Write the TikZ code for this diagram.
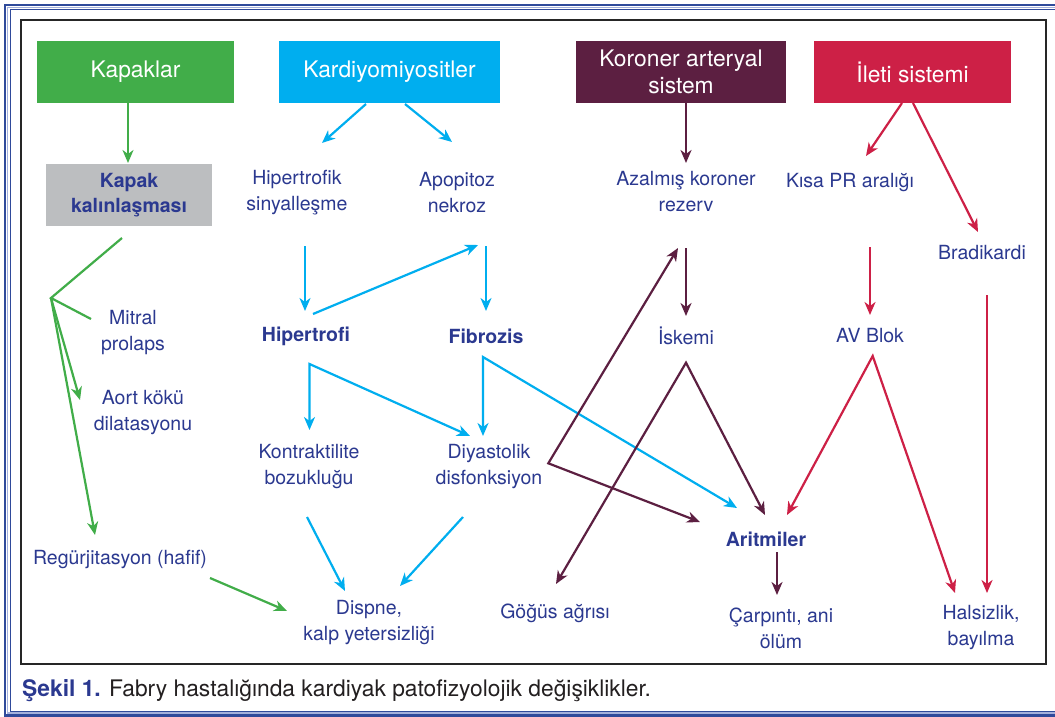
\documentclass[tikz,border=0pt]{standalone}
\usepackage{fontspec}
\setmainfont{TeX Gyre Heros}
\usetikzlibrary{arrows.meta,calc}

\definecolor{kgreen}{HTML}{41AD49}
\definecolor{kcyan}{HTML}{00AEEF}
\definecolor{kmaroon}{HTML}{5C1F41}
\definecolor{kred}{HTML}{CD2046}
\definecolor{kgray}{HTML}{BCBEC0}
\definecolor{txtblue}{HTML}{2B3990}
\definecolor{framedark}{HTML}{2F4A9B}
\definecolor{framelight}{HTML}{A3B0DC}
\definecolor{captxt}{HTML}{231F20}

\tikzset{
  lbl/.style={text=txtblue, align=center, inner sep=0pt,
    font=\fontsize{19.5pt}{26pt}\selectfont},
  lblb/.style={lbl, font=\fontsize{19.5pt}{26pt}\selectfont\bfseries},
  hdr/.style={text=white, align=center, inner sep=0pt, minimum height=62pt,
    font=\fontsize{22.8pt}{27.5pt}\selectfont},
  tipshape/.tip={Stealth[length=13pt,width=11pt,inset=4pt]},
  conn/.style={line width=2.2pt, -tipshape},
  bi/.style={line width=2.2pt, tipshape-tipshape},
  plain/.style={line width=2.2pt},
}

\begin{document}
\begin{tikzpicture}[x=1pt,y=-1pt]
\clip (0,0) rectangle (1055,717);
\fill[white] (0,0) rectangle (1055,717);

% page frame
\draw[framedark, line width=2.5pt] (5,5) rectangle (1080,715.5);
\draw[framelight, line width=1.5pt] (7.5,7.5) rectangle (1080,713);
\draw[framedark, line width=1pt] (10,9.5) rectangle (1080,711);
\draw[black!85, line width=1.2pt] (21,20) rectangle (1046,664);

% header boxes
\node[hdr, fill=kgreen, minimum width=197pt] (kap) at (135.5,72) {Kapaklar};
\node[hdr, fill=kcyan, minimum width=221pt] (km) at (389.5,72) {Kardiyomiyositler};
\node[hdr, fill=kmaroon, minimum width=210pt] (kor) at (681,72) {Koroner arteryal\\sistem};
\node[hdr, fill=kred, minimum width=197pt] (ileti) at (912.5,72) {İleti sistemi};

% valve column
\node[lblb, fill=kgray, minimum width=166pt, minimum height=62pt,
  font=\fontsize{19.5pt}{25pt}\selectfont\bfseries] (kk) at (129,195) {Kapak\\kalınlaşması};
\node[lbl] (mit) at (133,333) {Mitral\\prolaps};
\node[lbl] (aort) at (143,413) {Aort kökü\\dilatasyonu};
\node[lbl] (reg) at (120,559) {Regürjitasyon (hafif)};

% cardiomyocyte column
\node[lbl] (hs) at (297,193) {Hipertrofik\\sinyalleşme};
\node[lbl] (apo) at (457,193) {Apopitoz\\nekroz};
\node[lblb] (hip) at (306,336) {Hipertrofi};
\node[lblb] (fib) at (486,336) {Fibrozis};
\node[lbl] (kon) at (309,467) {Kontraktilite\\bozukluğu};
\node[lbl] (diy) at (489,467) {Diyastolik\\disfonksiyon};
\node[lbl] (dis) at (369,623) {Dispne,\\kalp yetersizliği};

% coronary column
\node[lbl] (azr) at (686,192) {Azalmış koroner\\rezerv};
\node[lbl] (isk) at (686,336) {İskemi};
\node[lbl] (gog) at (555,613) {Göğüs ağrısı};
\node[lblb] (ari) at (766,539) {Aritmiler};
\node[lbl] (car) at (781,628) {Çarpıntı, ani\\ölüm};

% conduction column
\node[lbl] (kpr) at (850,183) {Kısa PR aralığı};
\node[lbl] (bra) at (982,253) {Bradikardi};
\node[lbl] (avb) at (870,336) {AV Blok};
\node[lbl] (hal) at (981,628) {Halsizlik,\\bayılma};

% caption
\node[anchor=base west, inner sep=0pt, text=captxt,
  font=\fontsize{22.8pt}{27pt}\selectfont] (cap) at (22,696)
  {\textcolor{txtblue}{\bfseries Şekil 1.} Fabry hastalığında kardiyak patofizyolojik değişiklikler.};

% valve connectors
\begin{scope}[draw=kgreen]
\draw[conn] ([shift={(-7.5,31)}]kap.center) -- ([shift={(-1,-32)}]kk.center);
\coordinate (vfork) at ([shift={(-78,103)}]kk.center);
\draw[plain, line join=miter] ([shift={(-7,43)}]kk.center) -- (vfork) -- ([shift={(-42,-14)}]mit.center);
\draw[conn] (vfork) -- ([shift={(-63,-13)}]aort.center);
\draw[conn] (vfork) -- ([shift={(-25,-24)}]reg.center);
\draw[conn] ([shift={(90,19)}]reg.center) -- ([shift={(-82,-12)}]dis.center);
\end{scope}

% cardiomyocyte connectors
\begin{scope}[draw=kcyan]
\draw[conn] ([shift={(-23.5,32)}]km.center) -- ([shift={(25,-50)}]hs.center);
\draw[conn] ([shift={(15.5,32)}]km.center) -- ([shift={(-5,-51)}]apo.center);
\draw[conn] ([shift={(8,53)}]hs.center) -- ([shift={(-1,-25)}]hip.center);
\draw[conn] ([shift={(7,-22)}]hip.center) -- ([shift={(21,52)}]apo.center);
\draw[conn] ([shift={(29,53)}]apo.center) -- ([shift={(0,-25)}]fib.center);
\coordinate (hfork) at ([shift={(3.5,28)}]hip.center);
\draw[bi] ([shift={(0.5,-37)}]kon.center) -- (hfork) -- ([shift={(-19,-31)}]diy.center);
\coordinate (ffork) at ([shift={(-3,21)}]fib.center);
\draw[bi] ([shift={(-6,-31)}]diy.center) -- (ffork) -- ([shift={(-29,-31)}]ari.center);
\draw[conn] ([shift={(-2,50)}]kon.center) -- ([shift={(-24,-32)}]dis.center);
\draw[conn] ([shift={(-26,50)}]diy.center) -- ([shift={(31,-37)}]dis.center);
\end{scope}

% coronary connectors
\begin{scope}[draw=kmaroon]
\draw[conn] ([shift={(5,31)}]kor.center) -- ([shift={(0,-29)}]azr.center);
\draw[conn] ([shift={(0,56)}]azr.center) -- ([shift={(0,-20)}]isk.center);
\coordinate (dfork) at ([shift={(59.3,-3.7)}]diy.center);
\draw[bi] ([shift={(-8,56)}]azr.center) -- (dfork) -- ([shift={(-66,-17)}]ari.center);
\coordinate (ifork) at ([shift={(0,26.7)}]isk.center);
\draw[bi] ([shift={(1,-29)}]gog.center) -- (ifork) -- ([shift={(-1,-24)}]ari.center);
\draw[conn] ([shift={(11,13)}]ari.center) -- ([shift={(-4,-33)}]car.center);
\end{scope}

% conduction connectors
\begin{scope}[draw=kred]
\draw[conn] ([shift={(-10.5,31)}]ileti.center) -- ([shift={(16,-27)}]kpr.center);
\draw[conn] ([shift={(0.5,31)}]ileti.center) -- ([shift={(-4,-21)}]bra.center);
\draw[conn] ([shift={(20,64)}]kpr.center) -- ([shift={(0,-21)}]avb.center);
\coordinate (afork) at ([shift={(2.7,20)}]avb.center);
\draw[bi] ([shift={(21,-24)}]ari.center) -- (afork) -- ([shift={(-26,-35)}]hal.center);
\draw[conn] ([shift={(5,42)}]bra.center) -- ([shift={(6,-35)}]hal.center);
\end{scope}
\end{tikzpicture}
\end{document}
